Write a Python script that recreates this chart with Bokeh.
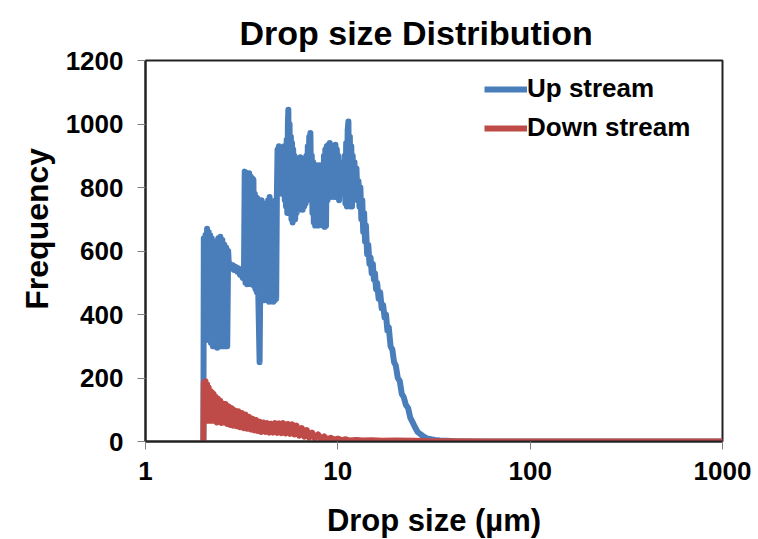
from bokeh.plotting import figure
from bokeh.models import Range1d, FixedTicker, Legend, LegendItem
from bokeh.embed import file_html
from bokeh.resources import INLINE

# ---- data ----
x_ticks = [1, 10, 100, 1000]
x_tick_labels = ["1", "10", "100", "1000"]
y_ticks = [0, 200, 400, 600, 800, 1000, 1200]

up_x = [2.00, 2.01, 2.03, 2.05, 2.07, 2.09, 2.11, 2.13, 2.15, 2.17, 2.19, 2.21, 2.24, 2.27, 2.30,
        2.33, 2.36, 2.39, 2.42, 2.45, 2.48, 2.51, 2.54, 2.57, 2.60, 2.63, 2.66, 2.69,
        2.72, 2.75, 2.80, 2.85, 2.90, 2.95, 3.00, 3.05, 3.10, 3.15, 3.20, 3.25,
        3.28, 3.31, 3.34, 3.37, 3.40, 3.43, 3.46, 3.49, 3.52, 3.55, 3.58, 3.61, 3.64, 3.67,
        3.70, 3.73, 3.76, 3.79, 3.82, 3.86, 3.92, 3.98,
        4.02, 4.06, 4.10, 4.14, 4.18, 4.22, 4.26, 4.30, 4.34, 4.38, 4.42, 4.46, 4.50, 4.54,
        4.58, 4.62, 4.66, 4.70, 4.74, 4.78, 4.82,
        4.86, 4.90, 4.94, 4.98, 5.02, 5.06, 5.10, 5.14, 5.18, 5.22, 5.26, 5.30, 5.34, 5.38,
        5.42, 5.46, 5.50, 5.53, 5.57, 5.61, 5.66,
        5.70, 5.74, 5.78, 5.82, 5.86, 5.90, 5.95, 6.00, 6.05, 6.10, 6.15, 6.20, 6.26, 6.32,
        6.38, 6.44, 6.50, 6.56, 6.62, 6.68, 6.74, 6.80, 6.86, 6.92, 6.98, 7.04, 7.10, 7.16,
        7.20, 7.26, 7.32, 7.38, 7.44, 7.50, 7.56, 7.62, 7.68, 7.74, 7.80, 7.86, 7.92, 7.98,
        8.05, 8.12, 8.19, 8.26, 8.33, 8.40, 8.47, 8.54, 8.61, 8.68, 8.76, 8.84, 8.92, 9.00,
        9.08, 9.16, 9.24, 9.32, 9.40, 9.48, 9.56, 9.64, 9.72, 9.80, 9.88, 9.96,
        10.05, 10.15, 10.25, 10.35, 10.45, 10.55, 10.65, 10.75, 10.85, 10.95, 11.05, 11.15,
        11.25, 11.35, 11.45, 11.55, 11.65, 11.75, 11.85, 11.95, 12.05, 12.2, 12.35, 12.5,
        12.65, 12.8, 12.95, 13.1, 13.25, 13.4, 13.55, 13.7, 13.85, 14.0, 14.2, 14.4, 14.6,
        14.8, 15.0, 15.2, 15.4, 15.6, 15.8, 16.0, 16.3, 16.6, 16.9, 17.2, 17.5, 17.8, 18.1,
        18.4, 18.8, 19.2, 19.6, 20.0, 20.5, 21.0, 21.5, 22.0, 22.6, 23.2, 23.8, 24.5, 25.2,
        26.0, 27.0, 28.0, 29.0, 30.5, 32.0, 34.0, 37.0, 40.0, 50.0, 100.0, 1000.0]
up_y = [0, 640, 330, 650, 320, 670, 330, 660, 320, 650, 310, 640, 300, 620, 300,
        630, 295, 640, 300, 645, 300, 635, 300, 620, 300, 610, 300, 600,
        540, 560, 545, 555, 540, 550, 535, 545, 525, 535, 515, 520,
        850, 500, 845, 495, 840, 500, 845, 505, 835, 495, 830, 500, 825, 490,
        780, 480, 770, 470, 765, 460, 250, 740,
        760, 450, 750, 445, 740, 450, 730, 445, 760, 440, 770, 450, 755, 445,
        740, 440, 750, 445, 760, 450, 770,
        920, 800, 930, 790, 925, 800, 915, 780, 910, 800, 930, 760, 900, 740,
        950, 720, 1000, 1045, 760, 1000, 720,
        960, 700, 940, 690, 920, 700, 900, 700, 890, 720, 890, 740, 880, 730,
        895, 740, 880, 730, 890, 740, 880, 750, 900, 760, 930, 800, 960, 820,
        972, 800, 900, 720, 880, 690, 870, 680, 860, 690, 870, 680, 860, 690,
        870, 700, 866, 690, 860, 680, 900, 676, 920, 680, 930, 760, 935, 770,
        940, 780, 930, 770, 920, 780, 930, 770, 935, 790, 920, 770,
        900, 760, 880, 780, 870, 790, 880, 780, 900, 750, 940, 740,
        980, 1008, 760, 960, 740, 930, 740, 900, 780, 880, 780, 860,
        760, 820, 740, 800, 700, 760, 660, 720, 630, 680, 590, 620, 560,
        580, 530, 560, 510, 530, 480, 500, 450, 470, 420, 430, 390, 400, 350,
        360, 300, 290, 250, 240, 200, 190, 150, 140, 115, 105, 75, 60, 45,
        30, 22, 15, 10, 7, 5, 3, 2, 1, 0, 0, 0]

down_x = [2.00, 2.01, 2.03, 2.05, 2.07, 2.09, 2.11, 2.13, 2.15, 2.17, 2.19, 2.21, 2.23,
          2.26, 2.29, 2.32, 2.35, 2.38, 2.41, 2.45, 2.49, 2.53, 2.57, 2.61, 2.66, 2.71,
          2.76, 2.81, 2.86, 2.92, 2.98, 3.04, 3.10, 3.17, 3.24, 3.31, 3.38, 3.45, 3.52,
          3.60, 3.68, 3.76, 3.84, 3.92, 4.00, 4.10, 4.20, 4.30, 4.40, 4.50, 4.60, 4.72,
          4.84, 4.96, 5.08, 5.20, 5.35, 5.50, 5.65, 5.80, 5.95, 6.10, 6.30, 6.50, 6.70,
          6.90, 7.10, 7.35, 7.60, 7.90, 8.20, 8.50, 8.80, 9.20, 9.60, 10.0, 10.5, 11.0,
          11.5, 12.5, 13.5, 15.0, 17.0, 20.0, 25.0, 30.0, 40.0, 60.0, 100.0, 1000.0]
down_y = [0, 185, 70, 190, 65, 180, 70, 170, 65, 160, 70, 155, 65,
          150, 68, 140, 60, 135, 62, 128, 58, 120, 60, 118, 55, 110,
          52, 105, 50, 98, 48, 95, 45, 90, 42, 85, 40, 78, 38,
          72, 35, 68, 33, 62, 30, 60, 30, 58, 28, 56, 28, 58,
          27, 57, 26, 58, 25, 55, 24, 54, 22, 50, 18, 42, 15,
          36, 12, 28, 10, 22, 8, 16, 6, 12, 5, 9, 4, 7,
          3, 5, 3, 4, 2, 3, 2, 1, 1, 0, 0, 0]

BLUE = "#4A7EBB"
RED = "#BE4B48"
FONT = "Liberation Sans"

p = figure(x_axis_type="log", x_range=Range1d(1, 1000), y_range=Range1d(0, 1200),
           frame_width=577, frame_height=381,
           min_border_left=145, min_border_right=36, min_border_top=60, min_border_bottom=98,
           output_backend="svg", toolbar_location=None, title="Drop size Distribution")

r_up = p.line(up_x, up_y, line_color=BLUE, line_width=6, line_join="round")
r_down = p.line(down_x, down_y, line_color=RED, line_width=6, line_join="round")

p.title.text_font = FONT
p.title.text_font_size = "34px"
p.title.text_font_style = "bold"
p.title.align = "left"
p.title.offset = 94
p.title.standoff = 18
p.title.text_color = "black"

p.xgrid.visible = False
p.ygrid.visible = False
p.outline_line_color = "#222222"
p.outline_line_width = 2
p.background_fill_color = "white"
p.border_fill_color = "white"

for ax in (p.xaxis[0], p.yaxis[0]):
    ax.axis_line_color = "#222222"
    ax.axis_line_width = 2
    ax.major_tick_line_color = "#808080"
    ax.major_tick_line_width = 1
    ax.major_tick_in = 0
    ax.major_tick_out = 8
    ax.minor_tick_in = 0
    ax.minor_tick_out = 0
    ax.major_label_text_font = FONT
    ax.major_label_text_font_style = "bold"
    ax.major_label_text_font_size = "26px"
    ax.major_label_text_color = "black"
    ax.axis_label_text_font = FONT
    ax.axis_label_text_font_style = "bold"
    ax.axis_label_text_font_size = "31px"
    ax.axis_label_text_color = "black"

p.yaxis.axis_label_text_font_size = "32px"
p.xaxis.ticker = FixedTicker(ticks=x_ticks, minor_ticks=[])
p.xaxis.major_label_overrides = {t: lab for t, lab in zip(x_ticks, x_tick_labels)}
p.yaxis.ticker = FixedTicker(ticks=y_ticks, minor_ticks=[])
p.xaxis.axis_label = "Drop size (µm)"
p.yaxis.axis_label = "\u00a0" * 5 + "Frequency"
p.xaxis.major_label_standoff = 12
p.yaxis.major_label_standoff = 14
p.xaxis.axis_label_standoff = 20
p.yaxis.axis_label_standoff = 8

legend = Legend(items=[LegendItem(label="Up stream", renderers=[r_up]),
                       LegendItem(label="Down stream", renderers=[r_down])],
                location=(339, 298), padding=0, spacing=8, margin=0,
                glyph_width=43, glyph_height=30, label_standoff=0,
                label_text_font=FONT, label_text_font_style="bold",
                label_text_font_size="26px", label_text_color="black",
                border_line_color=None, background_fill_alpha=0)
p.add_layout(legend)

open("out.html", "w").write(file_html(p, INLINE))
